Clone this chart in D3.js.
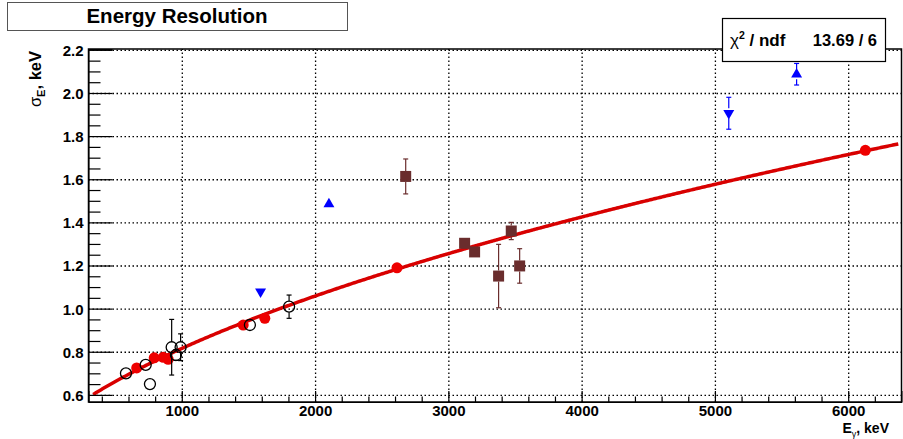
<!DOCTYPE html>
<html><head><meta charset="utf-8">
<script src="https://cdn.jsdelivr.net/npm/d3@7"></script>
<style>body{margin:0;background:#fff}svg{display:block}</style>
</head><body>
<svg id="c" width="903" height="439"></svg>
<script>
// ---------- data ----------
const xDomain = [300, 6400];
const yDomain = [0.567, 2.204];
const xMajorTicks = [1000, 2000, 3000, 4000, 5000, 6000];
const yMajorTicks = [0.6, 0.8, 1.0, 1.2, 1.4, 1.6, 1.8, 2.0, 2.2];
const titleText = "Energy Resolution";
const chi2Label = "13.69 / 6";

// fitted points (red filled circles)
const redE   = [661.7, 793, 861, 898, 1460.8, 1623, 2614.5, 6129];
const redS   = [0.725, 0.772, 0.774, 0.765, 0.924, 0.955, 1.189, 1.734];
const redErr = [0.005, 0.005, 0.005, 0.005, 0.005, 0.005, 0.006, 0.012];

// open circles
const openE   = [581, 729, 761, 924, 956, 991, 1511, 1805];
const openS   = [0.700, 0.739, 0.650, 0.821, 0.785, 0.821, 0.924, 1.009];
const openErr = [0, 0, 0, 0.129, 0.025, 0.062, 0, 0.054];

// brown squares
const sqE   = [2680, 3122, 3197, 3377, 3472, 3535];
const sqS   = [1.613, 1.303, 1.263, 1.151, 1.360, 1.198];
const sqErr = [0.081, 0.02, 0.01, 0.147, 0.04, 0.08];

// blue up triangles
const upE   = [2104, 5613];
const upS   = [1.485, 2.087];
const upErr = [0, 0.05];

// blue down triangles
const dnE   = [1591, 5104];
const dnS   = [1.079, 1.906];
const dnErr = [0, 0.074];

// fit: sigma = sqrt(p0 + p1*E)
const fitPar = [0.21, 4.55e-4];
const fitRange = [335, 6376];

// ---------- layout ----------
const L = 88.5, R = 901.5, T = 49, B = 402;
const svg = d3.select("#c");
const x = d3.scaleLinear().domain(xDomain).range([L, R]);
const y = d3.scaleLinear().domain(yDomain).range([B, T]);
const font = "'Liberation Sans', Arial, Helvetica, sans-serif";

// title box
svg.append("rect").attr("x", 7.5).attr("y", 2.5).attr("width", 340).attr("height", 28)
  .attr("fill", "#fff").attr("stroke", "#555").attr("stroke-width", 1);
svg.append("text").attr("x", 177).attr("y", 23).attr("text-anchor", "middle")
  .attr("font-family", font).attr("font-weight", "bold").attr("font-size", 20.5)
  .text(titleText);

// grid
const xMinor = d3.range(400, 6400, 200).filter(v => v % 1000 !== 0);
const yMinor = d3.range(0.6, 2.2001, 0.05).map(v => +v.toFixed(2)).filter(v => Math.abs(v*5 - Math.round(v*5)) > 1e-6);

const gGrid = svg.append("g");
gGrid.append("g").attr("transform", `translate(0,${B})`)
  .call(d3.axisBottom(x).tickValues(xMajorTicks).tickSize(-(B - T)).tickFormat(""))
  .call(g => g.select(".domain").remove());
gGrid.append("g").attr("transform", `translate(${L},0)`)
  .call(d3.axisLeft(y).tickValues(yMajorTicks).tickSize(-(R - L)).tickFormat(""))
  .call(g => g.select(".domain").remove());
gGrid.selectAll("line").attr("stroke", "#000").attr("stroke-width", 1.3).attr("stroke-dasharray", "1.5,2.5");

// fit curve
const fitE = d3.range(fitRange[0], fitRange[1], 10).concat([fitRange[1]]);
svg.append("path")
  .attr("d", d3.line().x(e => x(e)).y(e => y(Math.sqrt(fitPar[0] + fitPar[1] * e)))(fitE))
  .attr("fill", "none").attr("stroke", "#d80000").attr("stroke-width", 3.5);

// markers & error bars
function errBars(E, S, Err, color, r) {
  const g = svg.append("g").attr("stroke", color).attr("stroke-width", 1.2);
  E.forEach((e, i) => {
    if (!Err[i]) return;
    const cx = x(e), y1 = y(S[i] + Err[i]), y2 = y(S[i] - Err[i]), cy = y(S[i]);
    if (cy - y1 > r) g.append("line").attr("x1", cx).attr("x2", cx).attr("y1", y1).attr("y2", cy - r);
    if (y2 - cy > r) g.append("line").attr("x1", cx).attr("x2", cx).attr("y1", cy + r).attr("y2", y2);
    g.append("line").attr("x1", cx - 2.5).attr("x2", cx + 2.5).attr("y1", y1).attr("y2", y1);
    g.append("line").attr("x1", cx - 2.5).attr("x2", cx + 2.5).attr("y1", y2).attr("y2", y2);
  });
}

// brown squares
const brown = "#6a2d2d";
errBars(sqE, sqS, sqErr, brown, 5.5);
svg.append("g").selectAll("path").data(sqE).join("path")
  .attr("transform", (e, i) => `translate(${x(e)},${y(sqS[i])})`)
  .attr("d", d3.symbol(d3.symbolSquare, 121)).attr("fill", brown);

// blue triangles
errBars(upE, upS, upErr, "#0000ff", 5);
svg.append("g").selectAll("path").data(upE).join("path")
  .attr("transform", (e, i) => `translate(${x(e)},${y(upS[i])})`)
  .attr("d", d3.symbol(d3.symbolTriangle, 52)).attr("fill", "#0000ff");
errBars(dnE, dnS, dnErr, "#0000ff", 5);
svg.append("g").selectAll("path").data(dnE).join("path")
  .attr("transform", (e, i) => `translate(${x(e)},${y(dnS[i])}) rotate(180)`)
  .attr("d", d3.symbol(d3.symbolTriangle, 52)).attr("fill", "#0000ff");

// red filled circles
errBars(redE, redS, redErr, "#e00000", 5);
svg.append("g").selectAll("circle").data(redE).join("circle")
  .attr("cx", e => x(e)).attr("cy", (e, i) => y(redS[i])).attr("r", 5.5).attr("fill", "#ee0000");

// open circles
errBars(openE, openS, openErr, "#000", 5.5);
svg.append("g").selectAll("circle").data(openE).join("circle")
  .attr("cx", e => x(e)).attr("cy", (e, i) => y(openS[i])).attr("r", 5.5)
  .attr("fill", "none").attr("stroke", "#000").attr("stroke-width", 1.3);

// axes (ticks inside)
const axY = svg.append("g").attr("transform", `translate(${L},0)`);
axY.call(d3.axisLeft(y).tickValues(yMajorTicks).tickSize(-24).tickPadding(5).tickFormat(d3.format(".1f")));
axY.append("g").call(d3.axisLeft(y).tickValues(yMinor).tickSize(-12).tickFormat(""))
  .call(g => g.select(".domain").remove());
const axX = svg.append("g").attr("transform", `translate(0,${B})`);
axX.call(d3.axisBottom(x).tickValues(xMajorTicks).tickSize(-11).tickPadding(3).tickFormat(d3.format("d")));
axX.append("g").call(d3.axisBottom(x).tickValues(xMinor).tickSize(-5.5).tickFormat(""))
  .call(g => g.select(".domain").remove());
[axX, axY].forEach(a => {
  a.selectAll(".tick text").attr("font-family", font).attr("font-weight", "bold").attr("font-size", 15).attr("fill", "#000");
  a.selectAll("line").attr("stroke", "#000").attr("stroke-width", 1.2);
});
axY.selectAll(".tick text").attr("dy", "0.36em");

// frame
svg.append("rect").attr("x", L).attr("y", T).attr("width", R - L).attr("height", B - T)
  .attr("fill", "none").attr("stroke", "#000").attr("stroke-width", 1.5);

// axis titles
const yt = svg.append("text").attr("transform", "translate(41,51) rotate(-90)")
  .attr("text-anchor", "end").attr("font-family", font).attr("font-weight", "bold").attr("font-size", 16.5);
yt.append("tspan").attr("font-weight", "normal").text("σ");
yt.append("tspan").attr("font-size", 11).attr("dy", 4).text("E");
yt.append("tspan").attr("dy", -4).text(", keV");

const xt = svg.append("text").attr("x", 889).attr("y", 433)
  .attr("text-anchor", "end").attr("font-family", font).attr("font-weight", "bold").attr("font-size", 14);
xt.append("tspan").text("E");
xt.append("tspan").attr("font-size", 9).attr("font-weight", "normal").attr("dy", 4).text("γ");
xt.append("tspan").attr("dy", -4).text(", keV");

// stats box
svg.append("rect").attr("x", 722.5).attr("y", 18.5).attr("width", 163).attr("height", 43)
  .attr("fill", "#fff").attr("stroke", "#000").attr("stroke-width", 1.2);
const st = svg.append("text").attr("x", 730).attr("y", 46)
  .attr("font-family", font).attr("font-weight", "bold").attr("font-size", 17);
st.append("tspan").attr("font-weight", "normal").text("χ");
st.append("tspan").attr("font-size", 10.5).attr("dy", -7).text("2");
st.append("tspan").attr("dy", 7).text(" / ndf");
svg.append("text").attr("x", 877).attr("y", 46).attr("text-anchor", "end")
  .attr("font-family", font).attr("font-weight", "bold").attr("font-size", 16.5).text(chi2Label);
</script>
</body></html>
